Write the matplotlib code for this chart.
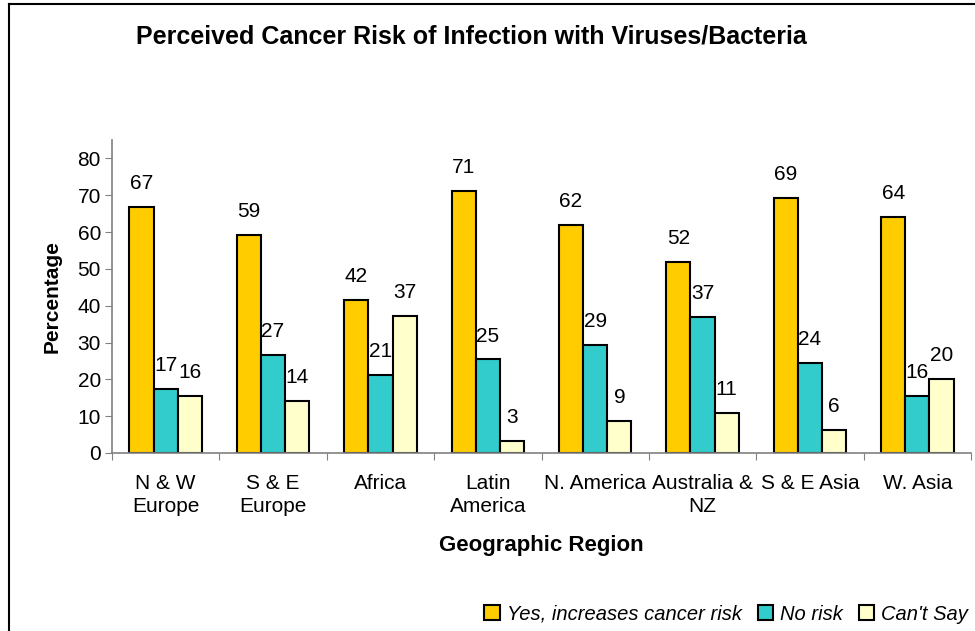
import numpy as np
import matplotlib
matplotlib.use("Agg")
import matplotlib.pyplot as plt
from matplotlib.lines import Line2D

plt.rcParams['font.family'] = ['Liberation Sans', 'DejaVu Sans']

regions = ["N & W\nEurope", "S & E\nEurope", "Africa", "Latin\nAmerica",
           "N. America", "Australia &\nNZ", "S & E Asia", "W. Asia"]
yes_risk = [66.9, 59.3, 41.6, 71.2, 61.9, 52.0, 69.2, 64.2]
no_risk = [17.3, 26.6, 21.1, 25.4, 29.3, 36.9, 24.4, 15.6]
cant_say = [15.6, 14.1, 37.2, 3.3, 8.7, 10.8, 6.2, 20.1]
series_names = ["Yes, increases cancer risk", "No risk", "Can't Say"]
colors = ["#FFCC00", "#33CCCC", "#FFFFCC"]

fig = plt.figure(figsize=(9.75, 6.31), dpi=100)
ax = fig.add_axes([112/975, 1 - 453/631, (971 - 112)/975, (453 - 140)/631])

x = np.arange(len(regions))
w = 0.225
for i, (vals, name, c) in enumerate(zip([yes_risk, no_risk, cant_say], series_names, colors)):
    bars = ax.bar(x + (i - 1) * w, vals, w, color=c, edgecolor='black', linewidth=1.5, label=name)
    ax.bar_label(bars, fmt='%.0f', padding=10, fontsize=15)

ax.set_xlim(-0.5, len(regions) - 0.5)
ax.set_ylim(0, 85)
ax.set_yticks(range(0, 81, 10))
ax.tick_params(axis='y', labelsize=15, length=5, color='#808080', pad=3)

# category boundaries get the tick marks, labels sit at the centres
ax.set_xticks(np.arange(-0.5, len(regions), 1))
ax.set_xticklabels([])
ax.tick_params(axis='x', which='major', length=5, color='#808080')
ax.set_xticks(x, minor=True)
ax.set_xticklabels(regions, minor=True, fontsize=15, linespacing=1.3)
ax.tick_params(axis='x', which='minor', length=0, pad=15)

for s in ['top', 'right']:
    ax.spines[s].set_visible(False)
for s in ['left', 'bottom']:
    ax.spines[s].set_color('#808080')
    ax.spines[s].set_linewidth(1.2)

ax.set_ylabel("Percentage", fontsize=15, fontweight='bold')
ax.yaxis.set_label_coords((62 - 112) / 859, 0.5)
fig.text(541/975, 1 - 545/631, "Geographic Region", fontsize=16, fontweight='bold',
         ha='center', va='center')
fig.text(471/975, 1 - 37/631, "Perceived Cancer Risk of Infection with Viruses/Bacteria",
         fontsize=18, fontweight='bold', ha='center', va='center')

leg = fig.legend(loc='center right', bbox_to_anchor=(986/975, 1 - 614/631), ncol=3, frameon=False,
                 prop={'style': 'italic', 'size': 14.5}, handlelength=0.75, handleheight=0.75,
                 handletextpad=0.35, columnspacing=0.8)

fig.add_artist(Line2D([9/975, 9/975], [0, 1 - 4/631], color='black', linewidth=1.5))
fig.add_artist(Line2D([9/975, 1], [1 - 4/631, 1 - 4/631], color='black', linewidth=1.5))

fig.savefig("out.png", dpi=100)
